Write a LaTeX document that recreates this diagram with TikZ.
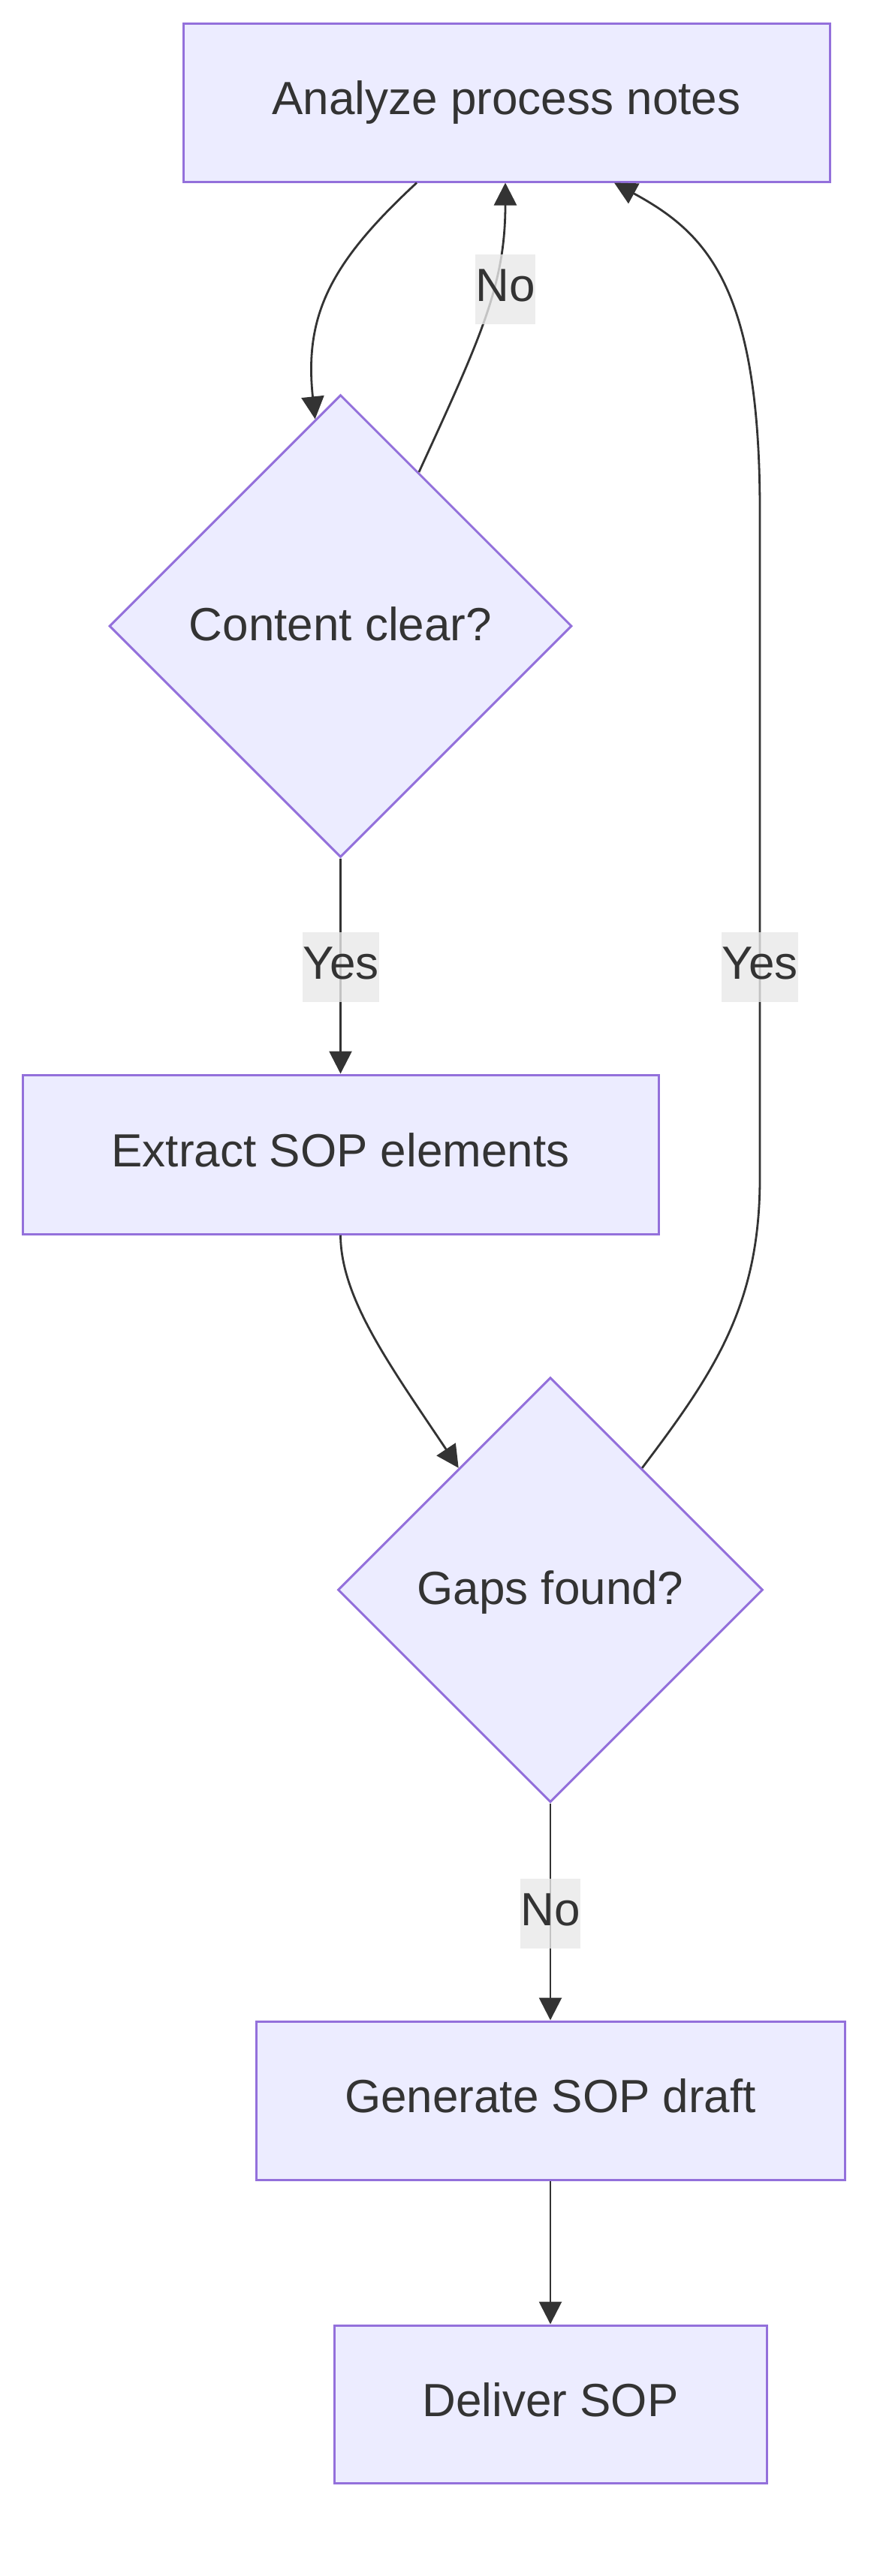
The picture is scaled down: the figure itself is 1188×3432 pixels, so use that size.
\documentclass[tikz,border=0pt]{standalone}
\usepackage{fontspec}
\setmainfont{Liberation Sans}
\usetikzlibrary{shapes.geometric,arrows.meta,calc}
\definecolor{nodefill}{HTML}{ECECFF}
\definecolor{nodeline}{HTML}{9370DB}
\definecolor{edgecol}{HTML}{333333}
\definecolor{lblfill}{HTML}{E8E8E8}
\definecolor{txt}{HTML}{333333}
\begin{document}
\begin{tikzpicture}[x=0.5pt,y=-0.5pt,
 box/.style={draw=nodeline,fill=nodefill,line width=1.5pt,inner sep=0pt,text=txt,text height=22.6pt,text depth=6.5pt,font=\fontsize{31}{37}\selectfont},
 dia/.style={box,diamond,aspect=1,text depth=3.6pt},
 edge/.style={draw=edgecol,line width=1.4pt,-{Triangle[length=15pt,width=15pt]}},
 lbl/.style={fill=lblfill,fill opacity=0.8,text opacity=1,text=txt,inner xsep=0pt,inner ysep=0pt,text height=22.6pt,text depth=6.5pt,minimum height=46.5pt,font=\fontsize{31}{37}\selectfont}]
\useasboundingbox (0,0) rectangle (1188,3432);
\node[box,minimum width=430.5pt,minimum height=105.5pt] (an) at (674.5,136.5) {Analyze process notes};
\node[dia,minimum width=308pt,minimum height=308pt] (cc) at (453.5,834) {Content clear?};
\node[box,minimum width=423.5pt,minimum height=106pt] (ex) at (453.5,1538) {Extract SOP elements};
\node[dia,minimum width=283pt,minimum height=283pt] (gf) at (733,2118) {Gaps found?};
\node[box,minimum width=392pt,minimum height=105.5pt] (ge) at (733,2798.5) {Generate SOP draft};
\node[box,minimum width=288pt,minimum height=105pt] (de) at (733,3203) {Deliver SOP};

\draw[edge] ([xshift=-59.75pt]an.south) .. controls (440,350) and (405,420) .. (cc.97.8);
\draw[edge] (cc.63.3) .. controls (640,450) and (673,380) .. ([xshift=-0.75pt]an.south);
\draw[edge] (cc.south) -- (ex.north);
\draw[edge] (ex.south) .. controls (454,1730) and (520,1820) .. (gf.127.1);
\draw[edge] (gf.53.2) .. controls (950,1830) and (1012,1740) .. (1012,1570) -- (1012,680) .. controls (1012,380) and (940,310) .. ([xshift=71.75pt]an.south);
\draw[edge] (gf.south) -- (ge.north);
\draw[edge] (ge.south) -- (de.north);

\node[lbl] (l1) at (673,385) {No};
\node[lbl] (l2) at (454,1288) {Yes};
\node[lbl] (l3) at (1012,1288) {Yes};
\node[lbl] (l4) at (733,2549) {No};
\end{tikzpicture}
\end{document}
